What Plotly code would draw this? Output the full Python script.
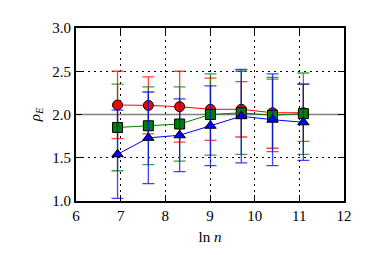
import plotly.graph_objects as go

x_ln_n = [6.93, 7.62, 8.32, 9.01, 9.70, 10.40, 11.09]

red_vals = [2.11, 2.105, 2.09, 2.06, 2.06, 2.02, 2.02]
red_err = [0.39, 0.33, 0.41, 0.36, 0.32, 0.41, 0.33]

green_vals = [1.85, 1.87, 1.89, 2.00, 2.02, 1.99, 2.01]
green_err = [0.50, 0.45, 0.43, 0.47, 0.48, 0.42, 0.47]

blue_vals = [1.54, 1.73, 1.76, 1.87, 1.98, 1.94, 1.91]
blue_err = [0.51, 0.53, 0.42, 0.46, 0.54, 0.53, 0.44]

ref_level = 2.0
x_ticks = [6, 7, 8, 9, 10, 11, 12]
y_ticks = [1.0, 1.5, 2.0, 2.5, 3.0]
y_tick_labels = ["1.0", "1.5", "2.0", "2.5", "3.0"]

series = [
    ("red", red_vals, red_err, "circle", "#ff0000", "rgba(255,0,0,0.75)"),
    ("green", green_vals, green_err, "square", "#008000", "rgba(0,128,0,0.75)"),
    ("blue", blue_vals, blue_err, "triangle-up", "#0000ff", "rgba(0,0,255,0.75)"),
]

fig = go.Figure()

fig.add_trace(go.Scatter(
    x=[6, 12], y=[ref_level, ref_level], mode="lines",
    line=dict(color="#808080", width=1.5), showlegend=False, hoverinfo="skip",
))

for name, vals, err, sym, col, ecol in series:
    fig.add_trace(go.Scatter(
        x=x_ln_n, y=vals, mode="lines+markers", name=name,
        line=dict(color=col, width=1),
        marker=dict(symbol=sym, size=10, color=col, line=dict(color="black", width=1)),
        error_y=dict(type="data", array=err, visible=True, color=ecol, thickness=1.3, width=6),
        showlegend=False,
    ))

font_family = "Times New Roman, serif"
black_font = dict(family=font_family, size=15, color="black")

fig.update_layout(
    width=374, height=247,
    margin=dict(l=68, r=38, t=17, b=51),
    paper_bgcolor="white", plot_bgcolor="white",
    font=black_font,
    showlegend=False,
)

axis_common = dict(
    showgrid=True, gridcolor="black", gridwidth=1, griddash="2px,4px",
    showline=True, linecolor="black", linewidth=2, mirror="ticks",
    ticks="inside", ticklen=6, tickwidth=1, tickcolor="black", zeroline=False,
    tickfont=black_font,
)

fig.update_xaxes(
    range=[6, 12], tickvals=x_ticks, ticktext=[str(v) for v in x_ticks],
    title=dict(text="ln <i>n</i>", standoff=8, font=black_font),
    **axis_common,
)
fig.update_yaxes(
    range=[1.0, 3.0], tickvals=y_ticks, ticktext=y_tick_labels,
    title=dict(text="<i>ρ</i><sub><i>E</i></sub>", standoff=8, font=black_font),
    **axis_common,
)

fig.write_html("out.html")
